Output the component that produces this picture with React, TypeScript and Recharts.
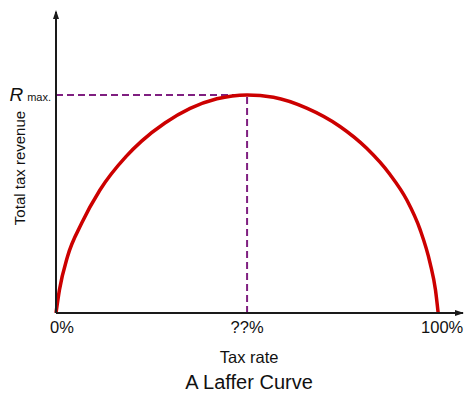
import { LineChart, Line, XAxis, YAxis, ReferenceLine, ReferenceDot } from 'recharts';

// tax rate (%) vs revenue (% of the maximum)
const taxRate = [0, 0.9, 3.0, 6.7, 11.5, 18.3, 22.4, 28.5, 35.1, 42.1, 50, 56.9, 65.6, 74.3, 81.3, 87.4, 91.8, 95.3, 97.9, 99.3, 100];
const revenue = [0, 10.6, 25.8, 41.1, 56.4, 71.7, 78.8, 87.1, 93.8, 98.2, 100, 98.9, 93.9, 85.5, 75.5, 63.5, 51.8, 38.1, 22.8, 10.5, 0];
const xTicks = [0, 50, 100];
const xTickLabels = ['0%', '??%', '100%'];
const peakRate = 50;
const peakRevenue = 100;
const xMax = 106.5;
const yMax = 138;

const chartData = taxRate.map((t, i) => ({ rate: t, revenue: revenue[i] }));

const font = '"Liberation Sans", Arial, sans-serif';
const axisColor = '#1a1a1a';
const dashColor = '#7f1f80';

const XTick = (props: any) => {
  const { x, y, payload } = props;
  const idx = xTicks.indexOf(payload.value);
  // the end labels sit a bit inwards like in the source image
  const shift = idx === 0 ? 6 : idx === 2 ? 4 : 0;
  return (
    <text x={x + shift} y={y + 18} textAnchor="middle" fontSize={16.5} fontFamily={font} fill="#111">
      {xTickLabels[idx]}
    </text>
  );
};

const YTick = (props: any) => {
  const { x, y } = props;
  return (
    <text x={x - 3} y={y + 6} textAnchor="end" fontFamily={font} fill="#111">
      <tspan fontSize={19} fontStyle="italic">R</tspan>
      <tspan fontSize={11} dx={4}>max.</tspan>
    </text>
  );
};

const XTitle = (props: any) => {
  const vb = props.viewBox;
  const cx = vb.x + (vb.width * peakRate) / xMax;
  return (
    <g fontFamily={font} fill="#111" textAnchor="middle">
      <text x={cx + 2} y={vb.y + 50} fontSize={16.5}>Tax rate</text>
      <text x={cx + 2} y={vb.y + 76} fontSize={20}>A Laffer Curve</text>
    </g>
  );
};

const YTitle = () => (
  <text
    x={25}
    y={168}
    transform="rotate(-90, 25, 168)"
    textAnchor="middle"
    fontSize={15}
    fontFamily={font}
    fill="#111"
  >
    Total tax revenue
  </text>
);

const ArrowUp = (props: any) => {
  const { cx, cy } = props;
  return <path d={`M${cx},${cy - 2} L${cx - 3},${cy + 7} L${cx + 3},${cy + 7} Z`} fill={axisColor} />;
};

const ArrowRight = (props: any) => {
  const { cx, cy } = props;
  return <path d={`M${cx + 1},${cy} L${cx - 8},${cy - 3} L${cx - 8},${cy + 3} Z`} fill={axisColor} />;
};

export default function App() {
  return (
    <div style={{ position: 'absolute', left: 0, top: 0, background: '#fff' }}>
      <LineChart width={464} height={394} data={chartData} margin={{ top: 12, right: 1, bottom: 0, left: 0 }}>
        <XAxis
          dataKey="rate"
          type="number"
          domain={[0, xMax]}
          ticks={xTicks}
          tick={<XTick />}
          tickLine={false}
          tickSize={0}
          height={81}
          axisLine={{ stroke: axisColor, strokeWidth: 2 }}
          label={{ content: <XTitle /> }}
        />
        <YAxis
          type="number"
          domain={[0, yMax]}
          ticks={[peakRevenue]}
          tick={<YTick />}
          tickLine={false}
          tickSize={0}
          width={56}
          axisLine={{ stroke: axisColor, strokeWidth: 2 }}
          label={{ content: <YTitle /> }}
        />
        <ReferenceLine
          segment={[{ x: 0, y: peakRevenue }, { x: peakRate, y: peakRevenue }]}
          stroke={dashColor}
          strokeWidth={2}
          strokeDasharray="7 4"
        />
        <ReferenceLine
          segment={[{ x: peakRate, y: 0 }, { x: peakRate, y: peakRevenue }]}
          stroke={dashColor}
          strokeWidth={2}
          strokeDasharray="7 4"
        />
        <ReferenceDot x={0} y={yMax} ifOverflow="visible" shape={<ArrowUp />} />
        <ReferenceDot x={xMax} y={0} ifOverflow="visible" shape={<ArrowRight />} />
        <Line
          type="monotone"
          dataKey="revenue"
          stroke="#cc0000"
          strokeWidth={3.5}
          dot={false}
          isAnimationActive={false}
        />
      </LineChart>
    </div>
  );
}
